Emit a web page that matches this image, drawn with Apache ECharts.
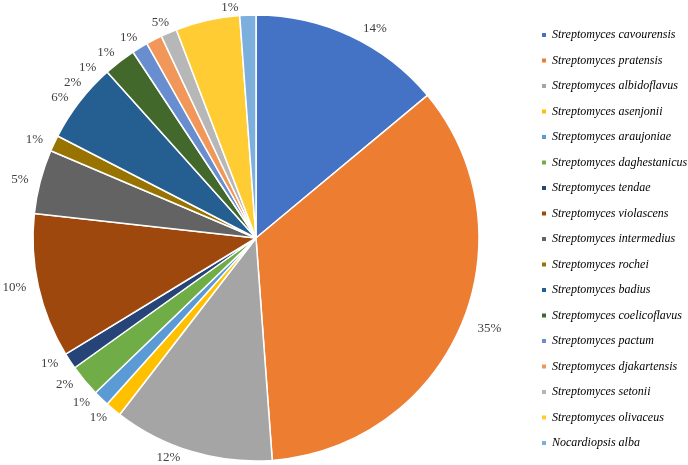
<!DOCTYPE html>
<html>
<head>
<meta charset="utf-8">
<script src="https://cdn.jsdelivr.net/npm/echarts@6/dist/echarts.min.js"></script>
<style>
html,body{margin:0;padding:0;background:#fff;}
#chart{width:688px;height:465px;}
</style>
</head>
<body>
<div id="chart"></div>
<script>
var categories = [
  'Streptomyces cavourensis','Streptomyces pratensis','Streptomyces albidoflavus',
  'Streptomyces asenjonii','Streptomyces araujoniae','Streptomyces daghestanicus',
  'Streptomyces tendae','Streptomyces violascens','Streptomyces intermedius',
  'Streptomyces rochei','Streptomyces badius','Streptomyces coelicoflavus',
  'Streptomyces pactum','Streptomyces djakartensis','Streptomyces setonii',
  'Streptomyces olivaceus','Nocardiopsis alba'
];
var counts = [12,30,10,1,1,2,1,9,4,1,5,2,1,1,1,4,1];
var colors = ['#4472C4','#ED7D31','#A5A5A5','#FFC000','#5B9BD5','#70AD47','#264478',
  '#9E480E','#636363','#997300','#255E91','#43682B','#698ED0','#F1975A','#B7B7B7',
  '#FFCD33','#7CAFDD'];

var data = categories.map(function(c,i){ return {name:c, value:counts[i]}; });
var chart = echarts.init(document.getElementById('chart'), null, {renderer:'canvas'});
chart.setOption({
  animation:false,
  color: colors,
  legend:{
    orient:'vertical',
    left:535, top:23,
    icon:'rect', itemWidth:6, itemHeight:6, itemGap:11.5,
    data: categories,
    textStyle:{fontFamily:'Liberation Serif', fontStyle:'italic', fontSize:12, color:'#000', lineHeight:14}
  },
  series:[{
    type:'pie',
    center:[256,238],
    radius:[0,223],
    startAngle:90,
    clockwise:true,
    avoidLabelOverlap:true,
    data:data,
    itemStyle:{borderColor:'#fff', borderWidth:1.5},
    label:{
      show:true, position:'outside', overflow:'none',
      formatter:function(p){ return Math.round(p.percent)+'%'; },
      fontFamily:'Liberation Serif', fontSize:13, color:'#404040'
    },
    labelLine:{show:false, length:8, length2:4},
    emphasis:{disabled:true}
  }]
});
</script>
</body>
</html>
